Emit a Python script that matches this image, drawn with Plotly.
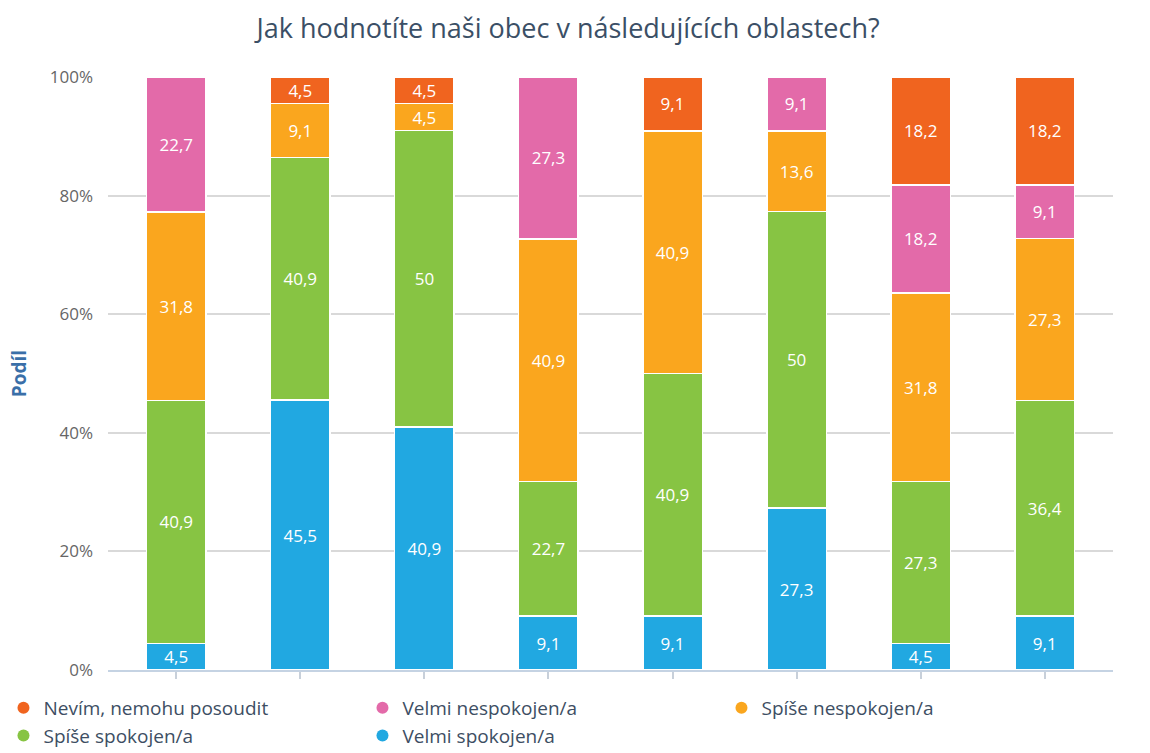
import plotly.graph_objects as go

# Survey areas (unlabelled on the axis) and answer shares in %
areas = [0, 1, 2, 3, 4, 5, 6, 7]
velmi_spokojen = [4.5, 45.5, 40.9, 9.1, 9.1, 27.3, 4.5, 9.1]
spise_spokojen = [40.9, 40.9, 50, 22.7, 40.9, 50, 27.3, 36.4]
spise_nespokojen = [31.8, 9.1, 4.5, 40.9, 40.9, 13.6, 31.8, 27.3]
velmi_nespokojen = [22.7, 0, 0, 27.3, 0, 9.1, 18.2, 9.1]
nevim = [0, 4.5, 4.5, 0, 9.1, 0, 18.2, 18.2]

y_ticks = [0, 20, 40, 60, 80, 100]
y_tick_labels = ["0%", "20%", "40%", "60%", "80%", "100%"]

FONT = "Open Sans"
series = [
    ("Velmi spokojen/a", velmi_spokojen, "#21a8e1"),
    ("Spíše spokojen/a", spise_spokojen, "#87c443"),
    ("Spíše nespokojen/a", spise_nespokojen, "#faa61e"),
    ("Velmi nespokojen/a", velmi_nespokojen, "#e36aa9"),
    ("Nevím, nemohu posoudit", nevim, "#f0641f"),
]

fig = go.Figure()
for name, vals, color in series:
    labels = [("%g" % v).replace(".", ",") if v > 0 else "" for v in vals]
    fig.add_trace(go.Bar(
        x=areas, y=vals, name=name, showlegend=False,
        marker=dict(color=color, line=dict(color="white", width=1.5)),
        text=labels, textposition="inside", insidetextanchor="middle",
        textangle=0, constraintext="none",
        textfont=dict(color="white", size=17, family=FONT),
        hoverinfo="skip",
    ))

# Legend entries with round markers, in the legend's reading order
legend_order = ["Nevím, nemohu posoudit", "Velmi nespokojen/a", "Spíše nespokojen/a",
                "Spíše spokojen/a", "Velmi spokojen/a"]
colors = {n: c for n, _, c in series}
for name in legend_order:
    fig.add_trace(go.Scatter(
        x=[None], y=[None], mode="markers", name=name,
        marker=dict(symbol="circle", size=15, color=colors[name]),
    ))

fig.update_layout(
    width=1150, height=753,
    barmode="stack", barnorm="percent", bargap=0.52,
    plot_bgcolor="white", paper_bgcolor="white",
    margin=dict(l=108, r=37, t=77, b=83, autoexpand=False),
    font=dict(family=FONT, color="#666666"),
    title=dict(
        text="Jak hodnotíte naši obec v následujících oblastech?",
        x=0.494, xanchor="center", y=0.962, yanchor="middle",
        font=dict(size=27, color="#3b4f66", family=FONT),
    ),
    legend=dict(
        orientation="h", traceorder="normal",
        x=-0.104, xanchor="left", y=-0.032, yanchor="top",
        entrywidth=314, entrywidthmode="pixels",
        font=dict(size=19, color="#3d4e63", family=FONT),
        itemsizing="constant", tracegroupgap=0,
    ),
    xaxis=dict(
        range=[-0.55, 7.55], tickvals=areas, showticklabels=False,
        ticks="outside", ticklen=7, tickcolor="#c8d0da", tickwidth=1.5,
        showgrid=False, showline=True, linecolor="#c5d3e3", linewidth=2,
        zeroline=False,
    ),
    yaxis=dict(
        range=[0, 100], tickvals=y_ticks, ticktext=y_tick_labels,
        tickfont=dict(size=17, color="#666666"),
        showgrid=True, gridcolor="#d9d9d9", gridwidth=1.5,
        zeroline=False, ticks="", ticklabelstandoff=14,
        title=dict(text="<b>Podíl</b>", standoff=18,
                   font=dict(size=19, color="#3a6fa8", family=FONT)),
    ),
)

fig.write_html("out.html")
